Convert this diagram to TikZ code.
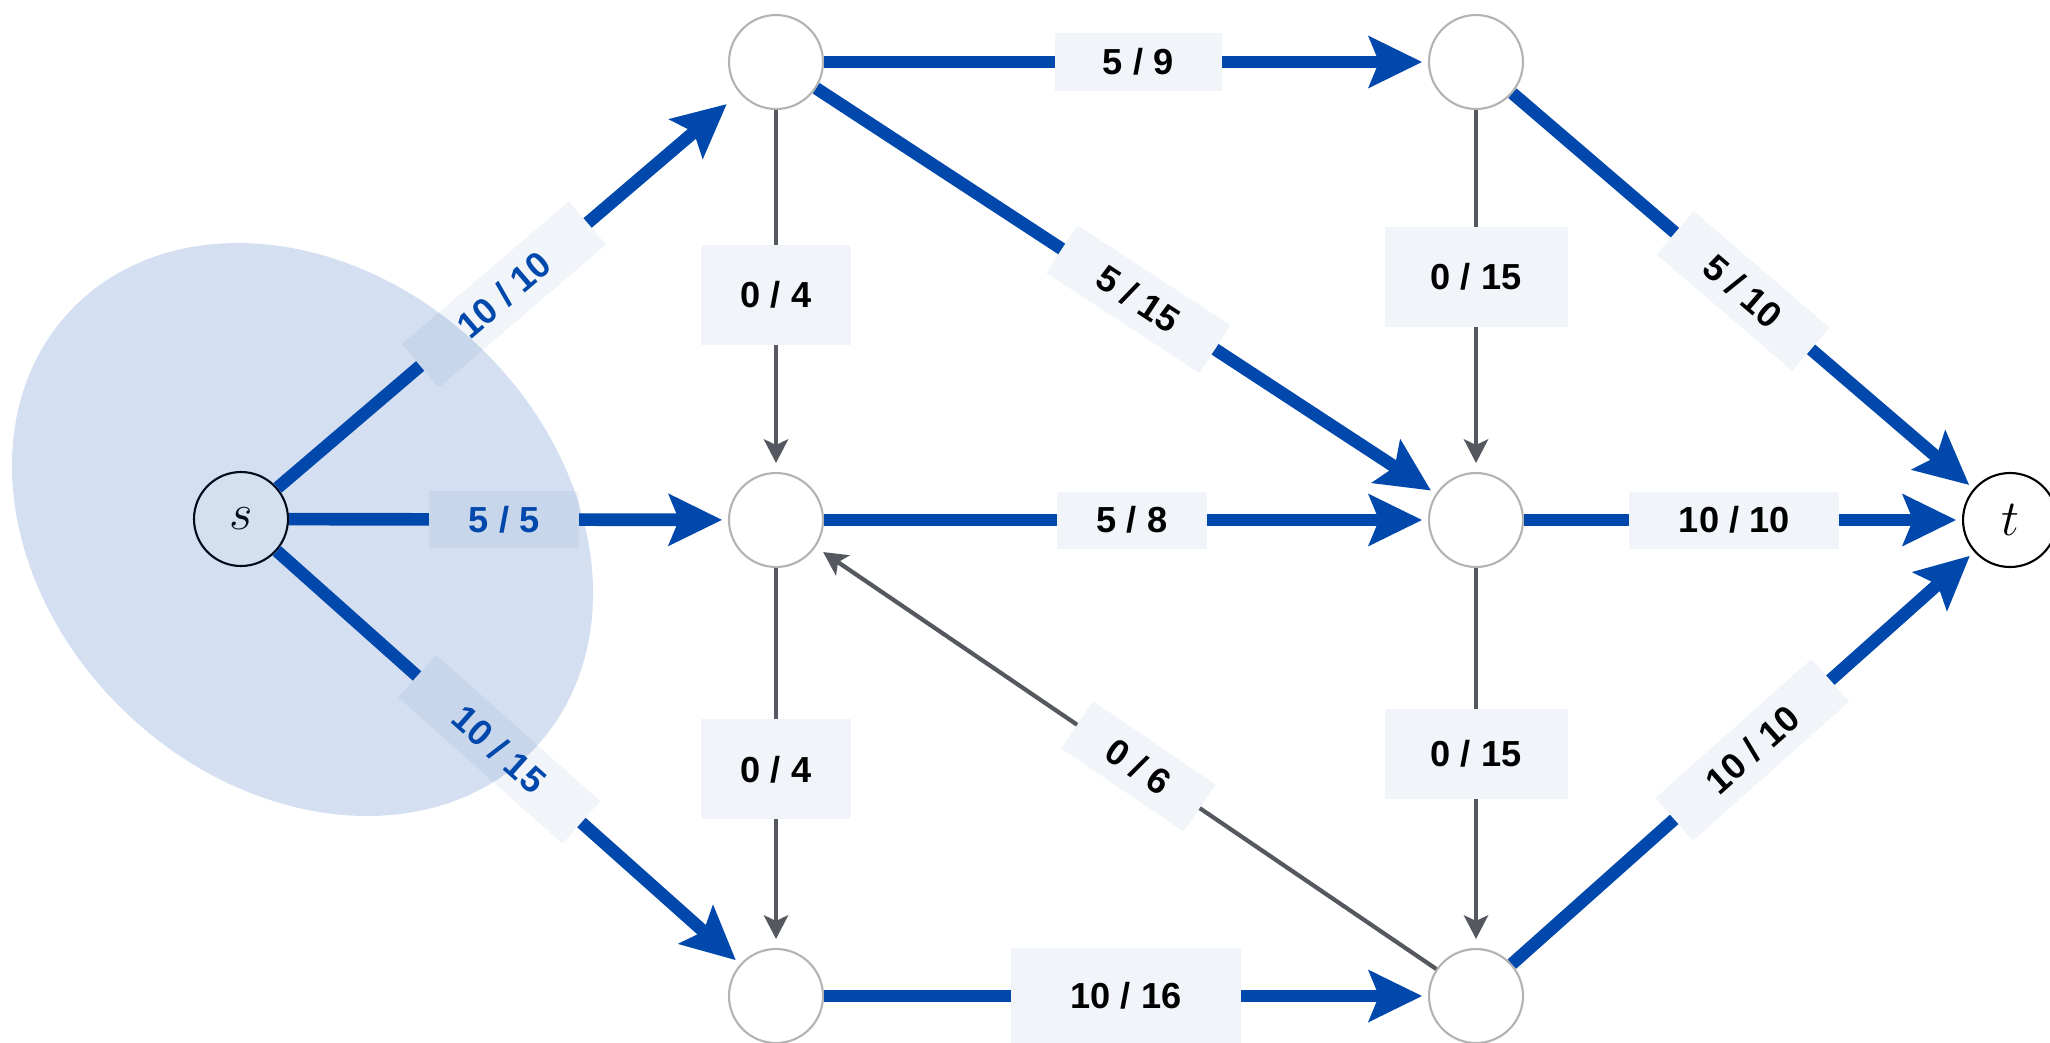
\documentclass[tikz,border=0pt]{standalone}
\usepackage{fontspec}
\newfontfamily\lblfont{Liberation Sans}
\usetikzlibrary{arrows.meta}
\definecolor{flowblue}{HTML}{0048AB}
\definecolor{edgegray}{HTML}{55595F}
\definecolor{nodegray}{HTML}{B3B3B3}
\definecolor{lblbg}{HTML}{F1F4F8}

\tikzset{
	vertex/.style={circle, draw=nodegray, line width=0.6pt, fill=white, minimum size=0.94cm, inner sep=0pt},
	terminal/.style={vertex, draw=black, font=\fontsize{14.3}{17}\selectfont},
	flow/.style={draw=flowblue, line width=3.6pt, -{Stealth[length=0.54cm, width=0.53cm, inset=0.11cm, line width=0pt]}, shorten >=0.06cm},
	idle/.style={draw=edgegray, line width=1.2pt, -{Stealth[length=0.24cm, width=0.25cm, inset=0.06cm, line width=0pt]}, shorten >=0.09cm},
	lbl/.style={fill=lblbg, text=black, font=\lblfont\bfseries\fontsize{10.3}{12}\selectfont, inner sep=0pt, minimum height=0.57cm, minimum width=1.5cm},
	tall/.style={lbl, minimum height=1cm},
	srclbl/.style={lbl, text=flowblue}
}

\begin{document}
\begin{tikzpicture}
	%%%%% START %%%%%
	\useasboundingbox (0, 0) rectangle (20.5, -10.42);
	
	\node[terminal] (s) at (2.41, -5.19) {$s$};
	\node[vertex] (A) at (7.76, -0.62) {};
	\node[vertex] (B) at (7.76, -5.20) {};
	\node[vertex] (C) at (7.76, -9.96) {};
	\node[vertex] (D) at (14.76, -0.62) {};
	\node[vertex] (E) at (14.76, -5.20) {};
	\node[vertex] (F) at (14.76, -9.96) {};
	\node[terminal] (t) at (20.10, -5.20) {$t$};
	
	% cut edges out of s
	\draw[flow, shorten >=0.17cm] (s) -- node[srclbl, sloped, pos=0.49, minimum width=2.2cm] {10 / 10} (A);
	\draw[flow] (s) -- node[srclbl, pos=0.49] {5 / 5} (B);
	\draw[flow] (s) -- node[srclbl, sloped, pos=0.48, minimum width=2.2cm] {10 / 15} (C);
	
	\draw[flow] (A) -- node[lbl, pos=0.52, minimum width=1.67cm] {5 / 9} (D);
	\draw[flow] (A) -- node[lbl, sloped, pos=0.52, minimum width=1.83cm] {5 / 15} (E);
	\draw[flow] (B) -- node[lbl, pos=0.51] {5 / 8} (E);
	\draw[flow] (C) -- node[tall, pos=0.5, minimum width=2.3cm, minimum height=0.96cm] {10 / 16} (F);
	
	\draw[flow] (D) -- node[lbl, sloped, pos=0.5, minimum width=1.79cm] {5 / 10} (t);
	\draw[flow] (E) -- node[lbl, pos=0.48, minimum width=2.1cm] {10 / 10} (t);
	\draw[flow] (F) -- node[lbl, sloped, pos=0.52, minimum width=2.09cm] {10 / 10} (t);
	
	% edges without flow
	\draw[idle] (A) -- node[tall, pos=0.51] {0 / 4} (B);
	\draw[idle] (B) -- node[tall, pos=0.53] {0 / 4} (C);
	\draw[idle] (D) -- node[tall, pos=0.46, minimum width=1.83cm] {0 / 15} (E);
	\draw[idle] (E) -- node[tall, pos=0.49, minimum width=1.83cm, minimum height=0.9cm] {0 / 15} (F);
	\draw[idle] (F) -- node[lbl, sloped, pos=0.48, minimum width=1.48cm] {0 / 6} (B);
	
	% source side of the cut
	\fill[flowblue, fill opacity=0.17, rotate around={-43.2:(3.025, -5.295)}] (3.025, -5.295) ellipse [x radius=3.19, y radius=2.544];
	
	%%%%% END %%%%%
\end{tikzpicture}
\end{document}
